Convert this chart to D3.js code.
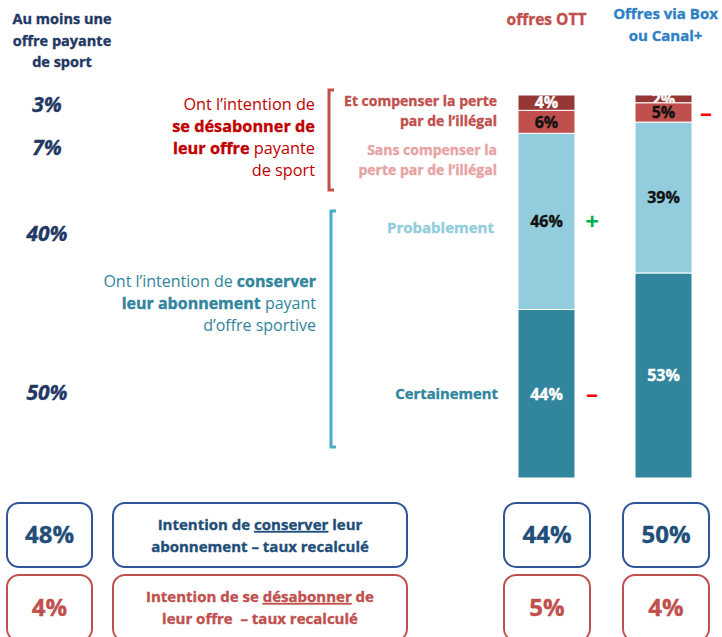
<!DOCTYPE html>
<html>
<head>
<meta charset="utf-8">
<script src="https://cdn.jsdelivr.net/npm/d3@7"></script>
<style>
  body { margin: 0; background: #fff; }
  text { font-family: "Open Sans", Lato, sans-serif; }
  tspan.b, text.b { stroke: currentColor; stroke-width: 0.35px; }
</style>
</head>
<body>
<script>
// Sport subscriptions: intention to keep / cancel

var width = 722;
var height = 637;

var offers = ["offres OTT", "Offres via Box ou Canal+"];
var certainement = [44, 53];
var probablement = [46, 39];
var sansCompenser = [6, 5];
var etCompenser = [4, 2];

var allSport = [3, 7, 40, 50];           // "au moins une offre payante de sport"
var conserverRecalc = [48, 44, 50];       // left box, OTT, Box
var desabonnerRecalc = [4, 5, 4];

var segKeys = ["certainement", "probablement", "sansCompenser", "etCompenser"];
var segColors = ["#31859c", "#93cddd", "#c0504d", "#953735"];
var segText = ["#fff", "#111", "#111", "#fff"];

var rows = offers.map(function(o, i){
  return { offer: o, certainement: certainement[i], probablement: probablement[i],
           sansCompenser: sansCompenser[i], etCompenser: etCompenser[i] };
});

// 100% stacked columns (each bar fills the full height)
var stacked = d3.stack().keys(segKeys).offset(d3.stackOffsetExpand)(rows);

var svg = d3.select("body").append("svg")
  .attr("width", width)
  .attr("height", height);

var xScale = d3.scaleBand()
  .domain(offers)
  .range([518, 692])
  .paddingInner(0.513);

var yScale = d3.scaleLinear()
  .domain([0, 1])
  .range([478, 95]);

var defs = svg.append("defs");

// bars
var layer = svg.selectAll("g.layer")
  .data(stacked)
  .enter()
  .append("g")
  .attr("class", "layer");

var segs = function(d, i){
  return d.map(function(p, j){ return { p: p, k: i, j: j, v: d.key }; });
};

layer.selectAll("rect")
  .data(segs)
  .enter()
  .append("rect")
  .attr("x", function(d){ return xScale(d.p.data.offer); })
  .attr("width", xScale.bandwidth())
  .attr("y", function(d){ return yScale(d.p[1]); })
  .attr("height", function(d){ return yScale(d.p[0]) - yScale(d.p[1]); })
  .attr("fill", function(d){ return segColors[d.k]; })
  .attr("stroke", "#fff")
  .attr("stroke-width", 1);

// clip each label to its own segment (thin segments get cut like in the original)
layer.each(function(d, i){
  segs(d, i).forEach(function(s){
    defs.append("clipPath").attr("id", "clip-" + s.k + "-" + s.j)
      .append("rect")
      .attr("x", xScale(s.p.data.offer))
      .attr("width", xScale.bandwidth())
      .attr("y", yScale(s.p[1]) - 6)
      .attr("height", yScale(s.p[0]) - yScale(s.p[1]) + 6);
  });
});

layer.selectAll("text")
  .data(segs)
  .enter()
  .append("text")
  .attr("class", "b")
  .attr("clip-path", function(d){ return "url(#clip-" + d.k + "-" + d.j + ")"; })
  .attr("x", function(d){ return xScale(d.p.data.offer) + xScale.bandwidth() / 2; })
  .attr("y", function(d){ return (yScale(d.p[0]) + yScale(d.p[1])) / 2; })
  .attr("dy", "0.36em")
  .attr("text-anchor", "middle")
  .attr("font-weight", "bold")
  .attr("font-size", 16)
  .style("color", function(d){ return segText[d.k]; })
  .attr("fill", function(d){ return segText[d.k]; })
  .text(function(d){ return d.p.data[d.v] + "%"; });

// column headers
var cx = function(o){ return xScale(o) + xScale.bandwidth() / 2; };
svg.append("text")
  .attr("class", "b").style("color", "#c0504d")
  .attr("x", cx(offers[0])).attr("y", 25)
  .attr("text-anchor", "middle").attr("font-weight", "bold").attr("font-size", 15.5)
  .attr("fill", "#c0504d").text(offers[0]);
var boxHead = svg.append("text")
  .attr("class", "b").style("color", "#2e80c4")
  .attr("text-anchor", "middle").attr("font-weight", "bold").attr("font-size", 15)
  .attr("fill", "#2e80c4");
boxHead.append("tspan").attr("x", cx(offers[1]) + 2).attr("y", 19).text("Offres via Box");
boxHead.append("tspan").attr("x", cx(offers[1]) + 2).attr("y", 41).text("ou Canal+");

// + / - signs
function sign(x, y, s, c){
  svg.append("text").attr("x", x).attr("y", y).attr("dy", "0.36em")
    .attr("text-anchor", "middle").attr("font-weight", "bold").attr("font-size", 24)
    .attr("fill", c).text(s);
}
var midOf = function(layerIdx, barIdx){
  var p = stacked[layerIdx][barIdx];
  return (yScale(p[0]) + yScale(p[1])) / 2;
};
sign(592, midOf(1, 0), "+", "#00b050");
sign(592, midOf(0, 0), "\u2013", "#ff0000");
sign(706, midOf(2, 1), "\u2013", "#ff0000");

// left header
var lh = svg.append("text").attr("class", "b").style("color", "#1f3864")
  .attr("text-anchor", "middle").attr("font-weight", "bold")
  .attr("font-size", 14.5).attr("fill", "#1f3864");
["Au moins une", "offre payante", "de sport"].forEach(function(t, i){
  lh.append("tspan").attr("x", 62).attr("y", 24 + i * 21.5).text(t);
});

// left percentages
var leftY = [104, 147, 233, 392];
svg.selectAll("text.allsport")
  .data(allSport)
  .enter()
  .append("text")
  .attr("class", "allsport b")
  .style("color", "#1f3864")
  .attr("x", 47)
  .attr("y", function(d, i){ return leftY[i]; })
  .attr("dy", "0.36em")
  .attr("text-anchor", "middle")
  .attr("font-weight", "bold")
  .attr("font-style", "italic")
  .attr("font-size", 21)
  .attr("fill", "#1f3864")
  .text(function(d){ return d + "%"; });

// multi-style text helper
function richText(x, y0, lh, lines, color, size, anchor, allBold){
  var t = svg.append("text").attr("text-anchor", anchor || "end")
    .attr("font-size", size).attr("fill", color).style("color", color);
  lines.forEach(function(line, i){
    var first = true;
    line.forEach(function(seg){
      var ts = t.append("tspan").text(seg[0]);
      if (first) { ts.attr("x", x).attr("y", y0 + i * lh); first = false; }
      if (seg[1] || allBold) ts.attr("font-weight", "bold").attr("class", "b");
      if (seg[2]) ts.attr("text-decoration", "underline");
    });
  });
  return t;
}

richText(315, 110, 22, [
  [["Ont l\u2019intention de"]],
  [["se d\u00e9sabonner de", true]],
  [["leur offre", true], [" payante"]],
  [["de sport"]]
], "#c00000", 16.3);

richText(497, 106, 19.5, [
  [["Et compenser la perte", true]],
  [["par de l\u2019ill\u00e9gal", true]]
], "#c0504d", 14);

richText(497, 155, 19.5, [
  [["Sans compenser la", true]],
  [["perte par de l\u2019ill\u00e9gal", true]]
], "#e6a3a2", 14);

richText(316, 287, 22, [
  [["Ont l\u2019intention de "], ["conserver", true]],
  [["leur abonnement", true], [" payant"]],
  [["d\u2019offre sportive"]]
], "#31859c", 16);

richText(494, 233, 0, [[["Probablement", true]]], "#93cddd", 15);
richText(498, 399, 0, [[["Certainement", true]]], "#31859c", 14.8);

// brackets
function bracket(x, y1, y2, c){
  svg.append("path")
    .attr("d", "M" + (x + 5) + "," + y1 + "H" + x + "V" + y2 + "H" + (x + 5))
    .attr("fill", "none").attr("stroke", c).attr("stroke-width", 3);
}
bracket(329, 90, 190, "#c0504d");
bracket(331, 211, 447, "#4bacc6");

// bottom boxes
var boxCols = [[7, 92], [504, 590], [623, 709]];
function roundBox(x1, x2, y1, y2, c){
  svg.append("rect").attr("x", x1).attr("y", y1)
    .attr("width", x2 - x1).attr("height", y2 - y1)
    .attr("rx", 12).attr("fill", "#fff").attr("stroke", c).attr("stroke-width", 2);
}
[[conserverRecalc, 503, 567, "#2f5597", "#1f4e79"],
 [desabonnerRecalc, 575, 641, "#c0504d", "#c0504d"]].forEach(function(r){
  r[0].forEach(function(v, i){
    var c = boxCols[i];
    roundBox(c[0], c[1], r[1], r[2], r[3]);
    svg.append("text").attr("class", "b").style("color", r[4])
      .attr("x", (c[0] + c[1]) / 2).attr("y", (r[1] + r[2]) / 2 - 1)
      .attr("dy", "0.36em").attr("text-anchor", "middle").attr("font-weight", "bold")
      .attr("font-size", 24).attr("fill", r[4]).text(v + "%");
  });
  roundBox(113, 407, r[1], r[2], r[3]);
});

richText(260, 530, 22, [
  [["Intention de "], ["conserver", false, true], [" leur"]],
  [["abonnement \u2013 taux recalcul\u00e9"]]
], "#1f4e79", 15, "middle", true);

richText(260, 602, 22, [
  [["Intention de se "], ["d\u00e9sabonner", false, true], [" de"]],
  [["leur offre  \u2013 taux recalcul\u00e9"]]
], "#c0504d", 15, "middle", true).attr("xml:space", "preserve");
</script>
</body>
</html>
